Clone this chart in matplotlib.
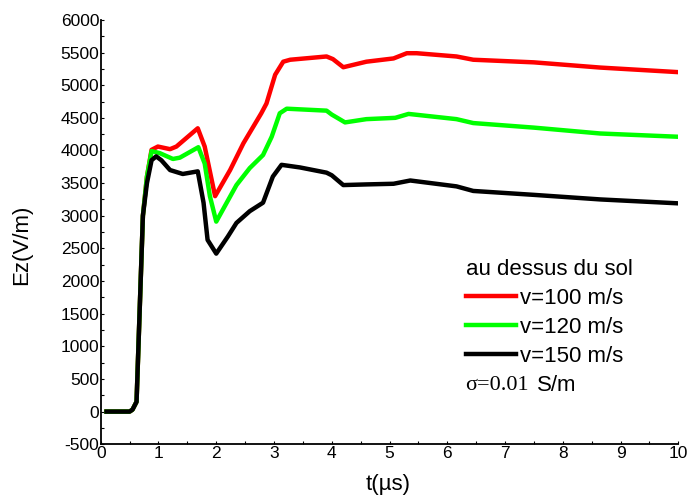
import numpy as np
import matplotlib.pyplot as plt
from matplotlib.ticker import MultipleLocator

# time (us) and Ez (V/m)
t_100 = [0.1, 0.5, 0.55, 0.62, 0.73, 0.8, 0.88, 0.99, 1.2, 1.31, 1.68, 1.8, 1.98, 2.24, 2.47,
         2.78, 2.87, 3.02, 3.16, 3.28, 3.91, 4.02, 4.2, 4.6, 5.07, 5.3, 5.47, 6.16, 6.45, 7.5, 8.65, 10]
ez_100 = [0, 0, 30, 150, 3000, 3600, 4010, 4060, 4020, 4060, 4340, 4060, 3300, 3700, 4110,
          4570, 4720, 5160, 5360, 5390, 5440, 5400, 5275, 5360, 5410, 5490, 5490, 5440, 5390, 5350, 5270, 5200]

t_120 = [0.1, 0.5, 0.55, 0.62, 0.73, 0.8, 0.88, 1.02, 1.25, 1.37, 1.69, 1.8, 1.89, 2.0, 2.35,
         2.58, 2.81, 2.96, 3.1, 3.22, 3.91, 4.0, 4.23, 4.6, 5.1, 5.33, 6.16, 6.45, 7.5, 8.65, 10]
ez_120 = [0, 0, 30, 150, 3000, 3600, 3990, 3960, 3870, 3890, 4050, 3800, 3300, 2910, 3470,
          3730, 3930, 4210, 4570, 4640, 4610, 4550, 4430, 4480, 4500, 4560, 4480, 4420, 4350, 4260, 4210]

t_150 = [0.1, 0.5, 0.55, 0.62, 0.73, 0.8, 0.88, 0.96, 1.05, 1.2, 1.42, 1.68, 1.78, 1.85, 2.0,
         2.2, 2.35, 2.58, 2.81, 2.98, 3.13, 3.45, 3.91, 4.0, 4.2, 4.6, 5.07, 5.36, 6.16, 6.45, 7.5, 8.65, 10]
ez_150 = [0, 0, 30, 150, 3000, 3500, 3850, 3910, 3850, 3700, 3640, 3680, 3200, 2630, 2420,
          2680, 2890, 3070, 3200, 3600, 3780, 3740, 3660, 3620, 3470, 3480, 3490, 3540, 3450, 3380, 3320, 3250, 3190]

plt.rcParams['font.family'] = ['Liberation Sans', 'DejaVu Sans']
plt.rcParams['axes.unicode_minus'] = False

fig = plt.figure(figsize=(6.9, 4.98), dpi=100)
ax = fig.add_axes([0.146, 0.108, 0.837, 0.852])

lw = 3.2
ax.plot(t_100, ez_100, color='#ff0000', lw=lw, label='v=100 m/s')
ax.plot(t_120, ez_120, color='#00ff00', lw=lw, label='v=120 m/s')
ax.plot(t_150, ez_150, color='black', lw=lw, label='v=150 m/s')

ax.set_xlim(0, 10)
ax.set_ylim(-500, 6000)
ax.xaxis.set_major_locator(MultipleLocator(1))
ax.xaxis.set_minor_locator(MultipleLocator(0.5))
ax.yaxis.set_major_locator(MultipleLocator(500))
ax.yaxis.set_minor_locator(MultipleLocator(250))
ax.tick_params(which='both', direction='in', length=2, width=0.8, labelsize=12.5, pad=1)
ax.spines['top'].set_visible(False)
ax.spines['right'].set_visible(False)
ax.spines['left'].set_linewidth(1.3)
ax.spines['bottom'].set_linewidth(1.3)

ax.set_xlabel('t(µs)', fontsize=16)
ax.set_ylabel('Ez(V/m)', fontsize=16)
ax.xaxis.set_label_coords(0.497, -0.07)
ax.yaxis.set_label_coords(-0.118, 0.469)

leg = ax.legend(loc='upper left', bbox_to_anchor=(0.617, 0.457), frameon=False,
                title='au dessus du sol', title_fontsize=16, fontsize=16,
                alignment='left', handlelength=2.25, handletextpad=0.2,
                labelspacing=0.36, borderaxespad=0)

ax.text(0.631, 0.139, 'σ=0.01', transform=ax.transAxes, fontsize=16,
        family='Liberation Serif', va='center', ha='left')
ax.text(0.756, 0.139, 'S/m', transform=ax.transAxes, fontsize=16,
        va='center', ha='left')

fig.savefig('out.png', dpi=100)
